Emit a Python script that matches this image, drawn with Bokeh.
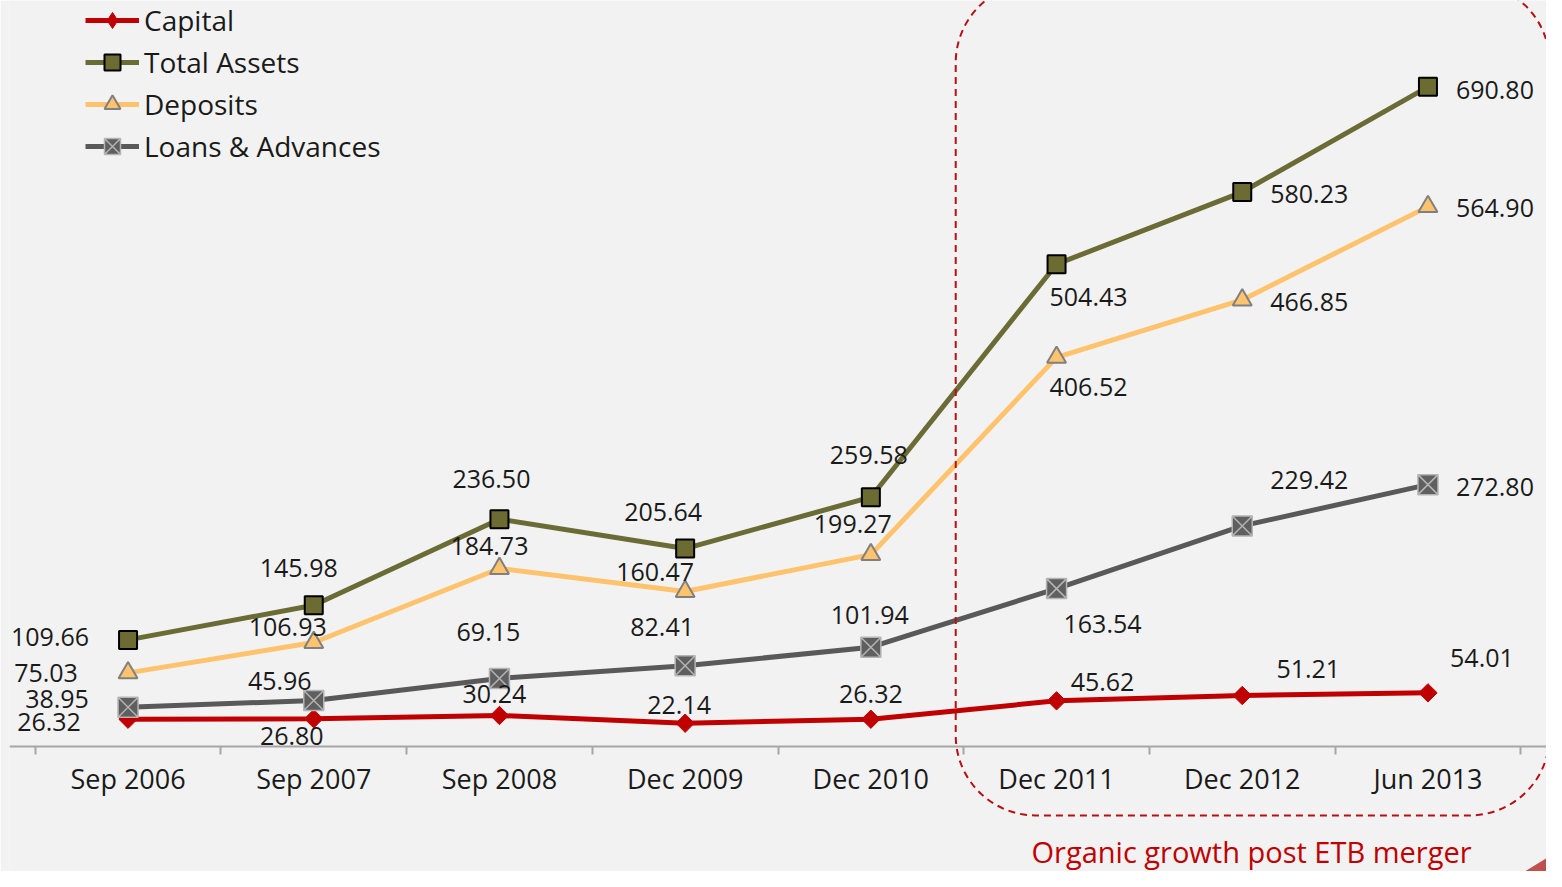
from bokeh.plotting import figure
from bokeh.models import (FactorRange, Range1d, CategoricalAxis, LinearAxis, FixedTicker,
                          ColumnDataSource, LabelSet, Legend, LegendItem, BoxAnnotation, Label)
from bokeh.core.properties import value
from bokeh.embed import file_html
from bokeh.resources import INLINE
import math

# ---------------- data ----------------
periods = ["Sep 2006", "Sep 2007", "Sep 2008", "Dec 2009", "Dec 2010", "Dec 2011", "Dec 2012", "Jun 2013"]
capital = [26.32, 26.80, 30.24, 22.14, 26.32, 45.62, 51.21, 54.01]
total_assets = [109.66, 145.98, 236.50, 205.64, 259.58, 504.43, 580.23, 690.80]
deposits = [75.03, 106.93, 184.73, 160.47, 199.27, 406.52, 466.85, 564.90]
loans = [38.95, 45.96, 69.15, 82.41, 101.94, 163.54, 229.42, 272.80]

series_names = ["Capital", "Total Assets", "Deposits", "Loans & Advances"]
annotation_text = "Organic growth post ETB merger"

# ---------------- label offsets (pixels, x right / y up) ----------------
capital_dx = [-79, -22, -5, -6, 0, 46, 66, 54]
capital_dy = [-3, -17, 21, 18, 25, 19, 27, 35]
assets_dx = [-78, -15, -8, -22, -2, 32, 67, 67]
assets_dy = [3, 37, 40, 37, 42, -33, -2, -3]
deposits_dx = [-82, -26, -10, -30, -18, 32, 67, 67]
deposits_dy = [0, 15, 22, 20, 31, -30, -2, -1]
loans_dx = [-71, -34, -11, -23, -1, 46, 67, 67]
loans_dy = [8, 20, 46, 39, 32, -35, 46, -2]

# ---------------- styles ----------------
BG = "#F2F2F2"
FONT = "Open Sans"
RED = "#C00000"

styles = [
    dict(values=capital, dx=capital_dx, dy=capital_dy, line="#C00000", marker="square",
         fill="#C00000", mline="#C00000", mwidth=1, size=13, angle=math.pi / 4,
         legend_marker="diamond"),
    dict(values=total_assets, dx=assets_dx, dy=assets_dy, line="#6B6B35", marker="square",
         fill="#6B6B32", mline="#000000", mwidth=2, size=18, angle=0, legend_marker=None),
    dict(values=deposits, dx=deposits_dx, dy=deposits_dy, line="#FFC36E", marker="triangle",
         fill="#FFC36E", mline="#808080", mwidth=2, size=19, angle=0, legend_marker=None),
    dict(values=loans, dx=loans_dx, dy=loans_dy, line="#595959", marker="square_x",
         fill="#5F5F5F", mline="#B4B4B4", mwidth=1.5, size=20, angle=0, legend_marker=None),
]

W, H = 1546, 871
p = figure(width=W, height=H,
           x_range=FactorRange(factors=periods, range_padding=0.1384, range_padding_units="absolute"),
           y_range=Range1d(-133.7, 781.5),
           output_backend="svg", toolbar_location=None,
           x_axis_location=None, y_axis_location=None,
           min_border_left=9, min_border_right=0, min_border_top=0, min_border_bottom=0,
           background_fill_color=BG, border_fill_color=BG, outline_line_color=None)
p.grid.grid_line_color = None

# axes at the baseline
axis_y = -2.6
cat_axis = CategoricalAxis(fixed_location=axis_y,
                           axis_line_color="#A6A6A6", axis_line_width=2,
                           major_tick_line_color=None, major_tick_out=0, major_tick_in=0,
                           minor_tick_line_color=None,
                           major_label_text_font=FONT, major_label_text_font_size="27px",
                           major_label_text_color="#1A1A1A", major_label_standoff=13)
p.add_layout(cat_axis, "below")
tick_axis = LinearAxis(fixed_location=axis_y,
                       ticker=FixedTicker(ticks=list(range(len(periods) + 1))),
                       axis_line_color=None,
                       major_tick_line_color="#A6A6A6", major_tick_line_width=2,
                       major_tick_out=8, major_tick_in=0, minor_tick_line_color=None,
                       major_label_text_font_size="0px", major_label_text_alpha=0)
p.add_layout(tick_axis, "below")

# highlight box
box = BoxAnnotation(left=4.957, right=8.155, top=800, bottom=-74.8,
                    fill_alpha=0, line_color="#B81010", line_alpha=1.0, line_dash="7 5",
                    line_width=2, border_radius=80)
p.add_layout(box)

items = []
for name, st in zip(series_names, styles):
    src = ColumnDataSource(dict(period=periods, v=st["values"],
                                txt=["%.2f" % v for v in st["values"]],
                                dx=st["dx"], dy=st["dy"]))
    r_line = p.line("period", "v", source=src, line_color=st["line"], line_width=5)
    legend_rs = None
    if st["legend_marker"]:
        # small diamond fully hidden beneath the rotated square; used as the legend glyph
        r_leg = p.scatter("period", "v", source=src, marker=st["legend_marker"], size=st["size"],
                          fill_color=st["fill"], line_color=st["mline"], line_width=st["mwidth"])
        legend_rs = [r_line, r_leg]
    r_mark = p.scatter("period", "v", source=src, marker=st["marker"], size=st["size"],
                       fill_color=st["fill"], line_color=st["mline"], line_width=st["mwidth"],
                       angle=st["angle"])
    if legend_rs is None:
        legend_rs = [r_line, r_mark]
    labels = LabelSet(x="period", y="v", text="txt", source=src,
                      x_offset="dx", y_offset="dy",
                      text_align="center", text_baseline="middle",
                      text_font=value(FONT), text_font_size="25px", text_color="#1A1A1A")
    p.add_layout(labels)
    items.append(LegendItem(label=name, renderers=legend_rs))

legend = Legend(items=items, location=(76, 705), orientation="vertical",
                glyph_width=54, glyph_height=40, label_height=40, spacing=2,
                padding=0, margin=0, label_standoff=5,
                border_line_color=None, background_fill_alpha=0,
                label_text_font=FONT, label_text_font_size="28px", label_text_color="#1A1A1A")
p.add_layout(legend)

note = Label(x=6.55, y=-112.6, text=annotation_text, text_align="center", text_baseline="middle",
             text_font=FONT, text_font_size="29px", text_color=RED)
p.add_layout(note)

# corner decoration
p.patch([7.968, 8.3, 8.3], [-140.0, -100.7, -140.0], fill_color="#C0504D", line_color=None)

open("out.html", "w").write(file_html(p, INLINE))
